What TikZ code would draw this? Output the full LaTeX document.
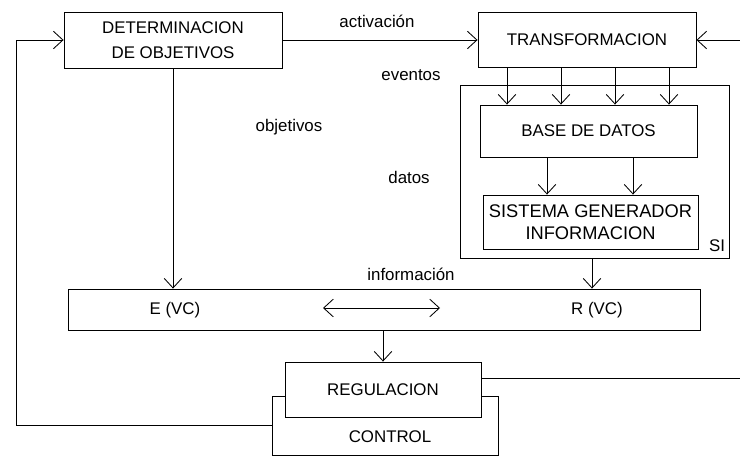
\documentclass[tikz,border=0pt]{standalone}
\usepackage{fontspec}
\setmainfont{Liberation Sans}
\usepackage{tikz}
\usetikzlibrary{arrows.meta}

\begin{document}
\begin{tikzpicture}[x=0.025cm,y=-0.025cm,line width=0.6pt]
\tikzstyle{every node}+=[inner sep=0pt, font=\fontsize{12}{18}\selectfont]
\tikzstyle{box}=[draw, black, fill=white, align=center]
\tikzstyle{arr}=[-{Straight Barb[length=2.4mm,width=4.4mm]}]
\useasboundingbox (0,0) rectangle (740,458);
\node [box, minimum width=5.45cm, minimum height=1.4cm] (detobj) at (173,40) {DETERMINACION\\DE OBJETIVOS};
\node [box, minimum width=5.45cm, minimum height=1.375cm] (transf) at (587,40) {TRANSFORMACION};
\node [box, minimum width=6.725cm, minimum height=4.325cm] (si) at (594.5,171.5) {};
\node [box, minimum width=5.425cm, minimum height=1.3cm] (bd) at (588.5,131) {BASE DE DATOS};
\node [box, minimum width=5.375cm, minimum height=1.35cm, font=\fontsize{13}{16}\selectfont] (sgi) at (590.5,222) {SISTEMA GENERADOR\\INFORMACION};
\node (silbl) at (717,246) {SI};
\node [box, minimum width=15.775cm, minimum height=1.025cm] (vc) at (384.5,309.5) {};
\node (evc) at (175,310) {E (VC)};
\node (rvc) at (597,310) {R (VC)};
\node [box, minimum width=5.65cm, minimum height=1.475cm] (ctrl) at (385,425.5) {};
\node (ctrltxt) at (390,437) {CONTROL};
\node [box, minimum width=4.9cm, minimum height=1.375cm] (reg) at (383,389.5) {REGULACION};
\node (lact) at (377,21) {activación};
\node (lev) at (411,75) {eventos};
\node (lobj) at (289,127) {objetivos};
\node (ldat) at (409,177) {datos};
\node (linf) at (411,274) {información};
\coordinate (fb) at (16,0);
\coordinate (rin) at (740,40);
\coordinate (rout) at (740,378);
\coordinate (da) at (323,308);
\coordinate (db) at (440,308);
\draw [arr] (detobj.east) -- (transf.west);
\draw [arr] (rin) -- (transf.east);
\foreach \x in {507,561,615,669}
  \draw [arr] (\x,0 |- transf.south) -- (\x,0 |- bd.north);
\foreach \x in {547,633}
  \draw [arr] (\x,0 |- bd.south) -- (\x,0 |- sgi.north);
\draw [arr] (592,0 |- si.south) -- (592,0 |- vc.north);
\draw [arr] (detobj.south) -- (detobj.south |- vc.north);
\draw [arr] (reg.north |- vc.south) -- (reg.north);
\draw [{Straight Barb[length=2.4mm,width=4.4mm]}-{Straight Barb[length=2.4mm,width=4.4mm]}] (da) -- (db);
\draw (rout -| reg.east) -- (rout);
\draw [arr] (ctrl.west) -| (fb |- detobj.west) -- (detobj.west);
\end{tikzpicture}
\end{document}
